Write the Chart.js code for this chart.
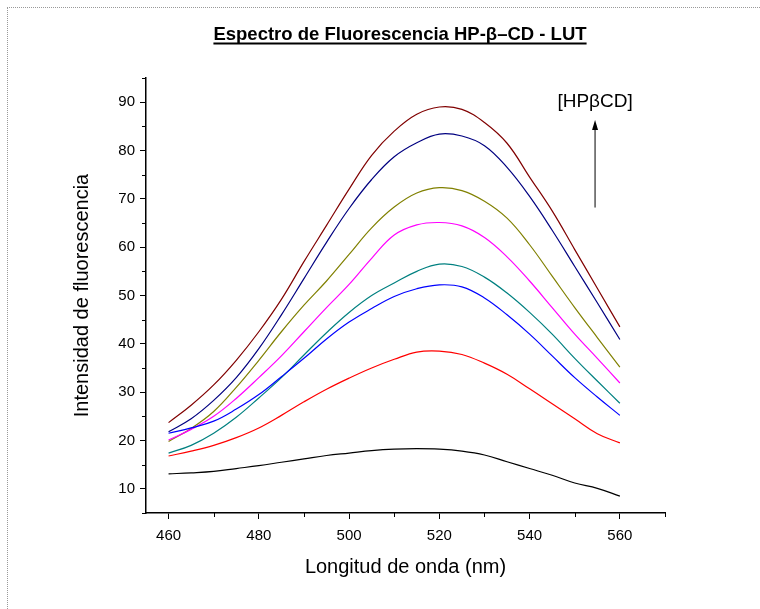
<!DOCTYPE html>
<html>
<head>
<meta charset="utf-8">
<script src="https://cdn.jsdelivr.net/npm/chart.js@4.4.1/dist/chart.umd.min.js"></script>
<style>
  html, body { margin: 0; padding: 0; background: #fff; }
  #wrap { position: relative; width: 760px; height: 609px; }
  #frame { position: absolute; left: 7px; top: 7px; right: 0; bottom: 0;
           border-top: 1px dotted #999; border-left: 1px dotted #999; pointer-events: none; }
</style>
</head>
<body>
<div id="wrap">
  <canvas id="chart" width="760" height="609"></canvas>
  <div id="frame"></div>
</div>
<script>
// longitudes de onda (nm)
const wavelengths = [460, 465, 470, 475, 480, 485, 490, 495, 500, 505, 510, 515, 520, 525, 530, 535, 540, 545, 550, 555, 560];

// intensidades, de menor a mayor concentracion
const serieBlack   = [13.1, 13.3, 13.6, 14.2, 14.8, 15.5, 16.2, 16.9, 17.4, 17.9, 18.2, 18.3, 18.2, 17.8, 17.0, 15.6, 14.2, 12.8, 11.2, 10.1, 8.5];
const serieRed     = [16.8, 17.8, 19.0, 20.6, 22.6, 25.2, 28.0, 30.6, 32.9, 35.0, 36.8, 38.3, 38.5, 37.8, 36.0, 33.7, 30.7, 27.6, 24.5, 21.4, 19.5];
const serieBlue    = [21.5, 22.6, 24.0, 26.5, 29.5, 33.2, 37.0, 41.0, 44.5, 47.3, 49.8, 51.4, 52.2, 51.8, 49.5, 46.0, 42.0, 37.5, 33.0, 29.0, 25.2];
const serieTeal    = [17.4, 19.0, 21.5, 24.8, 28.8, 33.0, 37.7, 42.3, 46.5, 50.0, 52.6, 55.0, 56.5, 56.0, 53.8, 50.5, 46.5, 42.0, 37.0, 32.3, 27.7];
const serieMagenta = [20.1, 22.3, 25.0, 28.7, 33.0, 37.5, 42.5, 47.5, 52.3, 57.7, 62.5, 64.6, 65.1, 64.4, 62.0, 58.0, 53.0, 47.5, 42.0, 37.0, 31.9];
const serieOlive   = [19.8, 22.5, 26.0, 31.0, 36.6, 42.5, 48.0, 53.0, 58.5, 64.0, 68.3, 71.2, 72.3, 71.7, 69.5, 66.0, 60.5, 54.0, 47.5, 41.3, 35.2];
const serieNavy    = [21.8, 24.5, 28.3, 33.0, 39.0, 46.0, 53.5, 61.0, 68.0, 74.0, 78.7, 81.6, 83.4, 83.0, 81.0, 76.5, 70.5, 63.5, 56.0, 48.5, 40.9];
const serieDarkRed = [23.7, 27.3, 31.5, 36.6, 42.5, 49.2, 57.0, 64.5, 72.0, 79.0, 84.0, 87.5, 89.0, 88.5, 85.8, 81.5, 74.5, 67.5, 59.5, 51.5, 43.5];

const xTicks = [460, 480, 500, 520, 540, 560];
const xMinor = [470, 490, 510, 530, 550, 570];
const yTicks = [10, 20, 30, 40, 50, 60, 70, 80, 90];
const yMinor = [5, 15, 25, 35, 45, 55, 65, 75, 85, 95];

const chartTitle = 'Espectro de Fluorescencia HP-\u03B2\u2013CD - LUT';
const arrowLabel = '[HP\u03B2CD]';

const FONT = '"Liberation Sans", Arial, sans-serif';

const series = [
  { data: serieBlack,   color: '#000000' },
  { data: serieRed,     color: '#ff0000' },
  { data: serieBlue,    color: '#0000ff' },
  { data: serieTeal,    color: '#008080' },
  { data: serieMagenta, color: '#ff00ff' },
  { data: serieOlive,   color: '#808000' },
  { data: serieNavy,    color: '#000080' },
  { data: serieDarkRed, color: '#800000' },
];

// titulo subrayado, flecha de concentracion y marcas menores
const extras = {
  id: 'extras',
  afterDraw(chart) {
    const { ctx } = chart;
    const x = chart.scales.x, y = chart.scales.y;
    ctx.save();
    ctx.strokeStyle = '#000';
    ctx.fillStyle = '#000';
    ctx.lineWidth = 1;

    xMinor.forEach(v => {
      const px = Math.round(x.getPixelForValue(v)) + 0.5;
      ctx.beginPath(); ctx.moveTo(px, y.bottom); ctx.lineTo(px, y.bottom + 4); ctx.stroke();
    });
    yMinor.forEach(v => {
      const py = Math.round(y.getPixelForValue(v)) + 0.5;
      ctx.beginPath(); ctx.moveTo(x.left, py); ctx.lineTo(x.left - 4, py); ctx.stroke();
    });

    ctx.font = 'bold 18.5px ' + FONT;
    ctx.textAlign = 'center';
    ctx.textBaseline = 'alphabetic';
    const cx = 400;
    ctx.fillText(chartTitle, cx, 40);
    const w = ctx.measureText(chartTitle).width;
    ctx.fillRect(cx - w / 2, 42.5, w, 2);

    const ax = x.getPixelForValue(554.5);
    ctx.font = '19px ' + FONT;
    ctx.fillText(arrowLabel, ax, y.getPixelForValue(89));
    const yTop = y.getPixelForValue(86.3), yBot = y.getPixelForValue(68.2);
    ctx.beginPath(); ctx.moveTo(ax, yBot); ctx.lineTo(ax, yTop + 8); ctx.stroke();
    ctx.beginPath(); ctx.moveTo(ax, yTop); ctx.lineTo(ax - 3, yTop + 10); ctx.lineTo(ax + 3, yTop + 10); ctx.closePath(); ctx.fill();
    ctx.restore();
  }
};

new Chart(document.getElementById('chart').getContext('2d'), {
  type: 'line',
  data: {
    datasets: series.map(s => ({
      data: s.data.map((v, i) => ({ x: wavelengths[i], y: v })),
      borderColor: s.color,
      borderWidth: 1.2,
      pointRadius: 0,
      fill: false,
      tension: 0.4,
    })),
  },
  options: {
    responsive: false,
    animation: false,
    layout: { padding: { left: 0, top: 78, right: 95, bottom: 0 } },
    plugins: { legend: { display: false }, tooltip: { enabled: false } },
    scales: {
      x: {
        type: 'linear',
        min: 455,
        max: 570,
        afterBuildTicks: s => { s.ticks = xTicks.map(v => ({ value: v })); },
        afterFit: s => { s.height = 96; },
        grid: { drawOnChartArea: false, drawTicks: true, tickLength: 6, color: '#000', tickWidth: 1 },
        border: { display: true, color: '#000', width: 1.5 },
        ticks: { color: '#000', font: { family: FONT, size: 15 }, padding: 8, maxRotation: 0, autoSkip: false },
        title: { display: true, text: 'Longitud de onda (nm)', color: '#000', font: { family: FONT, size: 20 }, padding: { top: 0, bottom: 30 } },
      },
      y: {
        type: 'linear',
        min: 5,
        max: 95,
        afterBuildTicks: s => { s.ticks = yTicks.map(v => ({ value: v })); },
        afterFit: s => { s.width = 146; },
        grid: { drawOnChartArea: false, drawTicks: true, tickLength: 6, color: '#000', tickWidth: 1 },
        border: { display: true, color: '#000', width: 1.5 },
        ticks: { color: '#000', font: { family: FONT, size: 15 }, padding: 5, autoSkip: false },
        title: { display: true, text: 'Intensidad de fluorescencia', color: '#000', font: { family: FONT, size: 20 }, padding: { top: 70, bottom: 0 } },
      },
    },
  },
  plugins: [extras],
});
</script>
</body>
</html>
